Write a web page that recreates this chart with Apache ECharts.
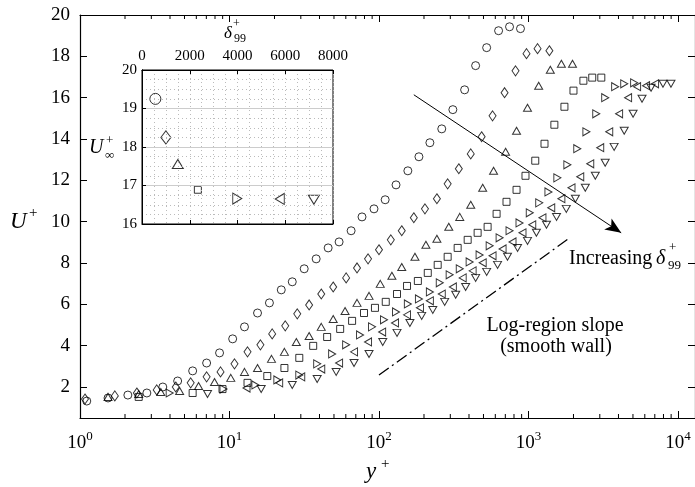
<!DOCTYPE html>
<html>
<head>
<meta charset="utf-8">
<script src="https://cdn.jsdelivr.net/npm/echarts@6/dist/echarts.min.js"></script>
<style>
  html, body { margin: 0; padding: 0; background: #fff; }
  #main { width: 695px; height: 487px; }
</style>
</head>
<body>
<div id="main"></div>
<script>
// velocity profiles, y+ and U+ per case (smallest to largest delta99+)
var circY = [1.11,1.54,2.09,2.80,3.58,4.50,5.67,7.03,8.58,10.5,12.6,15.4,18.5,22.2,26.3,31.6,38.0,45.7,54.1,65.1,77.0,92.6,110,130,156,185,219,263,312,374,443,525,631,747,884];
var circU = [1.32,1.47,1.61,1.71,2.00,2.29,2.78,3.16,3.65,4.33,4.91,5.58,6.07,6.70,7.09,7.72,8.20,8.73,9.02,9.56,10.23,10.62,11.06,11.78,12.46,13.14,13.82,14.49,15.42,16.38,17.55,18.42,19.24,19.43,19.34];

var diamY = [1.08,1.71,2.40,3.26,4.37,5.50,7.03,8.71,10.8,13.2,16.1,19.3,23.6,28.4,34.1,41.1,49.4,60.3,71.3,84.5,100,120,142,171,203,244,288,342,411,486,575,692,819,970,1150,1380];
var diamU = [1.42,1.57,1.71,1.86,2.00,2.20,2.49,2.73,3.12,3.70,4.04,4.57,4.96,5.54,5.97,6.50,6.84,7.28,7.76,8.20,8.64,9.12,9.56,10.19,10.62,11.11,11.83,12.56,13.28,14.11,15.12,16.24,17.30,18.13,18.37,18.27];

var triY = [1.54,2.47,3.47,4.64,6.21,7.94,10.2,12.6,15.4,19.1,23.3,28.0,34.1,41.1,49.4,59.3,71.3,85.8,102,122,142,174,206,244,293,347,411,494,584,703,832,985,1170,1400,1660,1970];
var triU = [1.52,1.66,1.76,1.81,2.05,2.24,2.44,2.73,2.92,3.36,3.70,4.18,4.47,4.91,5.29,5.68,6.07,6.41,6.99,7.38,7.81,8.30,8.88,9.17,9.75,10.23,10.82,11.64,12.46,13.38,14.40,15.51,16.58,17.35,17.64,17.64];

var sqY = [2.47,5.67,8.98,13.2,17.9,23.3,29.3,36.3,45.0,55.0,66.1,79.4,94.0,111,132,154,182,212,247,288,336,392,457,533,612,713,832,955,1110,1280,1490,1740,2000,2330,2670,3070];
var sqU = [1.52,1.71,1.90,2.20,2.53,2.92,3.41,3.99,4.42,4.81,5.20,5.58,5.83,6.12,6.50,6.89,7.13,7.52,7.91,8.30,8.73,9.12,9.46,9.75,10.38,10.96,11.54,12.22,12.95,13.77,14.69,15.56,16.34,16.82,16.97,16.97];

var rtY = [3.98,9.12,14.9,20.9,29.3,38.6,48.6,60.3,74.7,89.8,108,130,156,185,219,255,297,347,404,471,550,641,747,871,1020,1180,1360,1560,1820,2120,2440,2840,3260,3800,4370,5090];
var rtU = [1.71,1.90,2.10,2.34,2.58,3.12,3.60,4.04,4.52,4.91,5.25,5.63,6.02,6.26,6.60,7.04,7.43,7.72,8.05,8.39,8.83,9.22,9.56,9.94,10.43,10.91,11.44,12.12,12.75,13.53,14.35,15.22,16.00,16.53,16.67,16.72];

var ltY = [13.0,21.5,30.2,41.1,54.1,68.1,84.5,105,128,154,188,219,263,312,363,423,494,575,671,782,912,1060,1240,1420,1660,1940,2220,2590,3020,3470,4040,4640,5330,6120,7030];
var ltU = [1.95,2.20,2.49,2.87,3.16,3.70,4.18,4.66,5.10,5.49,5.83,6.17,6.50,6.84,7.28,7.62,8.01,8.35,8.68,9.02,9.46,9.85,10.19,10.67,11.11,11.64,12.17,12.80,13.58,14.35,15.22,16.00,16.53,16.58,16.67];

var dnY = [7.13,16.3,26.3,38.6,51.7,68.1,85.8,106,132,161,193,229,275,326,380,443,525,621,724,845,985,1130,1320,1540,1790,2060,2400,2800,3260,3740,4370,5010,5750,6610,7940,8980];
var dnU = [1.66,1.90,2.10,2.39,2.73,3.16,3.60,4.18,4.62,5.10,5.44,5.73,6.12,6.46,6.84,7.28,7.57,7.91,8.30,8.73,9.07,9.46,9.85,10.23,10.62,11.11,11.64,12.22,12.85,13.62,14.40,15.22,15.95,16.48,16.67,16.67];

// inset: free-stream velocity vs delta99+
var delta99 = [560, 1000, 1500, 2340, 3990, 5770, 7200];
var uInf = [19.25, 18.25, 17.56, 16.89, 16.66, 16.65, 16.63];

// minor ticks of the log axis
var minorTicks = [2,3,4,5,6,7,8,9,20,30,40,50,60,70,80,90,200,300,400,500,600,700,800,900,2000,3000,4000,5000,6000,7000,8000,9000];

// arrow and log-law guide line (y+, U+)
var arrowPts = [[171, 16.14], [4170, 9.46]];
var logLinePts = [[100, 2.58], [1850, 9.17]];

var X_MIN = 1, X_MAX = 13000, U_MIN = 0.5, U_MAX = 20;
var serif = '"Liberation Serif", "DejaVu Serif", serif';

var chart = echarts.init(document.getElementById('main'));

function zip(a, b) {
  var out = [];
  for (var i = 0; i < a.length; i++) out.push([a[i], b[i]]);
  return out;
}

// symbol, size, rotate, inset size
var marks = [
  { x: circY, u: circU, sym: 'circle',   size: 8,      rot: 0,   big: 11 },
  { x: diamY, u: diamU, sym: 'diamond',  size: [7, 10], rot: 0,  big: [10, 13] },
  { x: triY,  u: triU,  sym: 'triangle', size: [8, 7], rot: 0,   big: [11, 9] },
  { x: sqY,   u: sqU,   sym: 'rect',     size: 7,      rot: 0,   big: 7 },
  { x: rtY,   u: rtU,   sym: 'triangle', size: [8, 7], rot: -90, big: [11, 9] },
  { x: ltY,   u: ltU,   sym: 'triangle', size: [8, 7], rot: 90,  big: [11, 9] },
  { x: dnY,   u: dnU,   sym: 'triangle', size: [8, 7], rot: 180, big: [11, 9] }
];

var hollow = { color: 'rgba(0,0,0,0)', borderColor: '#000', borderWidth: 1 };

var series = [];
marks.forEach(function (m, i) {
  series.push({
    type: 'scatter', xAxisIndex: 0, yAxisIndex: 0,
    data: zip(m.x, m.u),
    symbol: m.sym, symbolSize: m.size, symbolRotate: m.rot,
    itemStyle: hollow, silent: true, z: 3
  });
  series.push({
    type: 'scatter', xAxisIndex: 2, yAxisIndex: 2,
    data: [[delta99[i], uInf[i]]],
    symbol: m.sym, symbolSize: m.big, symbolRotate: m.rot,
    itemStyle: hollow, silent: true, z: 5
  });
});

// minor log ticks, bottom and top
series.push({
  type: 'custom', xAxisIndex: 0, yAxisIndex: 0, silent: true, z: 4,
  data: minorTicks.map(function (v) { return [v, U_MIN]; }),
  renderItem: function (params, api) {
    var b = api.coord([api.value(0), U_MIN]);
    var t = api.coord([api.value(0), U_MAX]);
    return {
      type: 'group',
      children: [
        { type: 'line', shape: { x1: b[0], y1: b[1], x2: b[0], y2: b[1] - 4 }, style: { stroke: '#000', lineWidth: 1 } },
        { type: 'line', shape: { x1: t[0], y1: t[1], x2: t[0], y2: t[1] + 4 }, style: { stroke: '#000', lineWidth: 1 } }
      ]
    };
  }
});

// arrow + dash-dot slope line
series.push({
  type: 'line', xAxisIndex: 0, yAxisIndex: 0, data: [], silent: true,
  markLine: {
    silent: true, animation: false,
    label: { show: false },
    data: [
      [{ coord: arrowPts[0], symbol: 'none' },
       { coord: arrowPts[1], symbol: 'arrow', symbolSize: [10, 16] }],
      [{ coord: logLinePts[0], symbol: 'none', lineStyle: { type: [12, 4, 2, 4], width: 1.3, color: '#000' } },
       { coord: logLinePts[1], symbol: 'none' }]
    ],
    lineStyle: { color: '#000', width: 1, type: 'solid' }
  }
});

function powLabel(v) {
  var n = Math.round(Math.log10(v));
  return '{b|10}{s|' + n + '}';
}

var logLabelRich = {
  b: { fontFamily: serif, fontSize: 19, color: '#000' },
  s: { fontFamily: serif, fontSize: 13, color: '#000', padding: [0, 0, 14, 0] }
};

var option = {
  animation: false,
  backgroundColor: '#fff',
  grid: [
    { left: 80, top: 15, right: -2, bottom: 69 },
    { left: 142, top: 70, width: 191, height: 154, show: true, backgroundColor: '#fff', borderColor: '#000', borderWidth: 1, z: 4 }
  ],
  xAxis: [
    {
      type: 'log', gridIndex: 0, min: X_MIN, max: X_MAX, logBase: 10,
      axisLine: { lineStyle: { color: '#000', width: 1.2 } },
      axisTick: { inside: true, length: 7, lineStyle: { color: '#000' } },
      axisLabel: { formatter: powLabel, rich: logLabelRich, margin: 12, showMaxLabel: false },
      splitLine: { show: false }
    },
    {
      type: 'log', gridIndex: 0, position: 'top', min: X_MIN, max: X_MAX, logBase: 10,
      axisLine: { lineStyle: { color: '#000', width: 1.2 } },
      axisTick: { inside: true, length: 7, lineStyle: { color: '#000' } },
      axisLabel: { show: false },
      splitLine: { show: false }
    },
    {
      type: 'value', gridIndex: 1, position: 'top', min: 0, max: 8000, interval: 2000, z: 6,
      axisLine: { lineStyle: { color: '#000' } },
      axisTick: { inside: true, length: 4, lineStyle: { color: '#000' } },
      axisLabel: { fontFamily: serif, fontSize: 15, color: '#000', margin: 6, formatter: function (v) { return String(v); } },
      splitLine: { show: true, lineStyle: { color: '#bbb', type: [1, 3] } },
      minorTick: { show: false, splitNumber: 4 },
      minorSplitLine: { show: true, lineStyle: { color: '#bbb', type: [1, 3] } }
    },
    {
      type: 'value', gridIndex: 1, position: 'bottom', min: 0, max: 8000, interval: 2000, z: 6,
      axisLine: { lineStyle: { color: '#000' } },
      axisTick: { inside: true, length: 4, lineStyle: { color: '#000' } },
      axisLabel: { show: false },
      splitLine: { show: false }
    }
  ],
  yAxis: [
    {
      type: 'value', gridIndex: 0, min: U_MIN, max: U_MAX, splitNumber: 10,
      axisLine: { lineStyle: { color: '#000', width: 1.2 } },
      axisTick: { inside: true, length: 7, lineStyle: { color: '#000' } },
      axisLabel: { fontFamily: serif, fontSize: 19, color: '#000', margin: 10, showMinLabel: false },
      splitLine: { show: false }
    },
    {
      type: 'value', gridIndex: 0, position: 'right', min: U_MIN, max: U_MAX, splitNumber: 10,
      axisLine: { lineStyle: { color: '#000', width: 1.2 } },
      axisTick: { inside: true, length: 7, lineStyle: { color: '#000' } },
      axisLabel: { show: false },
      splitLine: { show: false }
    },
    {
      type: 'value', gridIndex: 1, min: 16, max: 20, interval: 1, z: 6,
      axisLine: { lineStyle: { color: '#000' } },
      axisTick: { inside: true, length: 4, lineStyle: { color: '#000' } },
      axisLabel: { fontFamily: serif, fontSize: 15, color: '#000', margin: 5 },
      splitLine: { show: true, lineStyle: { color: '#ccc', width: 1 } },
      minorTick: { show: false, splitNumber: 4 },
      minorSplitLine: { show: true, lineStyle: { color: '#bbb', type: [1, 3] } }
    },
    {
      type: 'value', gridIndex: 1, position: 'right', min: 16, max: 20, interval: 1, z: 6,
      axisLine: { lineStyle: { color: '#000' } },
      axisTick: { show: false },
      axisLabel: { show: false },
      splitLine: { show: false }
    }
  ],
  graphic: [
    { type: 'text', x: 10, y: 222, style: { text: 'U', font: 'italic 23px ' + serif, fill: '#000', verticalAlign: 'middle' } },
    { type: 'text', x: 29, y: 213, style: { text: '+', font: '15px ' + serif, fill: '#000', verticalAlign: 'middle' } },
    { type: 'text', x: 366, y: 472, style: { text: 'y', font: 'italic 23px ' + serif, fill: '#000', verticalAlign: 'middle' } },
    { type: 'text', x: 381, y: 464, style: { text: '+', font: '15px ' + serif, fill: '#000', verticalAlign: 'middle' } },
    // inset axis names
    { type: 'text', x: 224, y: 34, style: { text: 'δ', font: 'italic 17px ' + serif, fill: '#000', verticalAlign: 'middle' } },
    { type: 'text', x: 233, y: 24, style: { text: '+', font: '12px ' + serif, fill: '#000', verticalAlign: 'middle' } },
    { type: 'text', x: 234, y: 39, style: { text: '99', font: '12px ' + serif, fill: '#000', verticalAlign: 'middle' } },
    { type: 'text', x: 89, y: 148, style: { text: 'U', font: 'italic 20px ' + serif, fill: '#000', verticalAlign: 'middle' } },
    { type: 'text', x: 106, y: 141, style: { text: '+', font: '13px ' + serif, fill: '#000', verticalAlign: 'middle' } },
    { type: 'text', x: 105, y: 156, style: { text: '∞', font: '13px ' + serif, fill: '#000', verticalAlign: 'middle' } },
    // annotations
    { type: 'text', x: 569, y: 259, style: { text: 'Increasing', font: '20px ' + serif, fill: '#000', verticalAlign: 'middle' } },
    { type: 'text', x: 656, y: 259, style: { text: 'δ', font: 'italic 20px ' + serif, fill: '#000', verticalAlign: 'middle' } },
    { type: 'text', x: 669, y: 248, style: { text: '+', font: '13px ' + serif, fill: '#000', verticalAlign: 'middle' } },
    { type: 'text', x: 668, y: 266, style: { text: '99', font: '13px ' + serif, fill: '#000', verticalAlign: 'middle' } },
    { type: 'text', x: 555, y: 326, style: { text: 'Log-region slope', font: '20px ' + serif, fill: '#000', align: 'center', verticalAlign: 'middle' } },
    { type: 'text', x: 556, y: 347, style: { text: '(smooth wall)', font: '20px ' + serif, fill: '#000', align: 'center', verticalAlign: 'middle' } }
  ],
  series: series
};

chart.setOption(option);
</script>
</body>
</html>
